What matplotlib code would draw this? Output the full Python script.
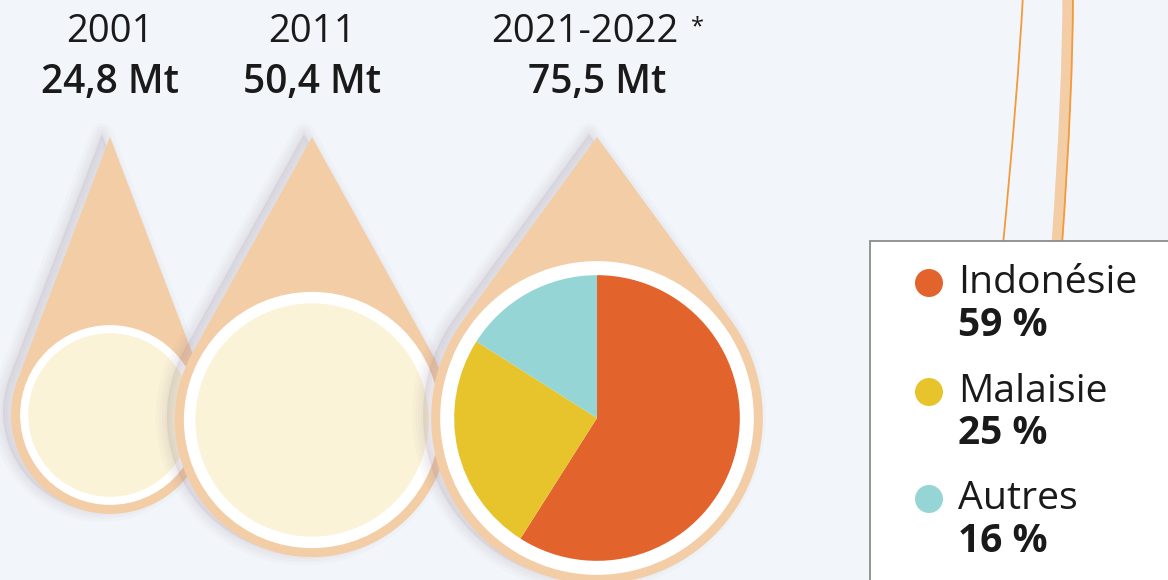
import numpy as np
import matplotlib.pyplot as plt
from matplotlib.patches import Polygon, Circle, Rectangle, PathPatch
from matplotlib.path import Path

plt.rcParams['font.family'] = ['Open Sans', 'DejaVu Sans']

# data
years = ["2001", "2011", "2021-2022"]
year_notes = ["", "", "*"]
volumes = [24.8, 50.4, 75.5]          # Mt
countries = ["Indonésie", "Malaisie", "Autres"]
shares = [59, 25, 16]                 # % of 2021-2022

# colours
BG = "#f2f6fa"
PEACH = "#f3cda6"
CREAM = "#faf3d8"
pie_colors = ["#e2632b", "#e8c42c", "#95d5d5"]

W, H = 1168, 580

fig = plt.figure(figsize=(W / 100, H / 100), dpi=100, facecolor=BG)
ax = fig.add_axes([0, 0, 1, 1])
ax.set_facecolor(BG)


def Y(py):
    # layout written in pixels from the top
    return H - py


def drop_points(cx, cy, tip_y, R, n=120):
    d = cy - tip_y
    th = np.arccos(R / d)
    # angles measured from "up", going round the bottom
    a = np.linspace(th, 2 * np.pi - th, n)
    xs = cx + R * np.sin(a)
    ys = cy - R * np.cos(a)
    pts = [(cx, tip_y)] + list(zip(xs, ys))
    return np.array([(x, Y(y)) for x, y in pts])


# layout of the drops (pixels)
centers_x = [110, 312, 597]
centers_y = [415, 420, 418]
tip_y = 137
k = 18.05  # ring radius = k * sqrt(volume)

for i, (cx, cy, v) in enumerate(zip(centers_x, centers_y, volumes)):
    ring = k * np.sqrt(v)
    outer = ring + 9
    inner = ring * 0.91
    pts = drop_points(cx, cy, tip_y, outer)

    # soft shadow, up and to the left
    for lw in [16, 11, 7, 3]:
        sh = Polygon(pts + np.array([-8, 3]), closed=True, facecolor="#8a6f8a",
                     edgecolor="#8a6f8a", lw=lw, alpha=0.03, zorder=2 + i * 3,
                     joinstyle="round")
        ax.add_patch(sh)

    ax.add_patch(Polygon(pts, closed=True, facecolor=PEACH, edgecolor="none",
                         zorder=3 + i * 3))
    ax.add_patch(Circle((cx, Y(cy)), ring, facecolor="white", edgecolor="none",
                        zorder=3.5 + i * 3))
    if i < 2:
        ax.add_patch(Circle((cx, Y(cy)), inner, facecolor=CREAM, edgecolor="none",
                            zorder=4 + i * 3))
    else:
        wedges, _ = ax.pie(shares, colors=pie_colors, startangle=90, counterclock=False,
                           radius=ring - 14, center=(cx, Y(cy)),
                           wedgeprops=dict(linewidth=0), frame=True)
        for w in wedges:
            w.set_zorder(4 + i * 3)

    ax.text(cx - (12 if year_notes[i] else 0), Y(32), years[i], ha="center",
            va="center", fontsize=27.5, color="#1a1a1a")
    if year_notes[i]:
        ax.text(cx + 94, Y(27), year_notes[i], ha="left", va="center", fontsize=17,
                color="#1a1a1a")
    ax.text(cx, Y(83), f"{v:.1f}".replace(".", ",") + " Mt", ha="center", va="center",
            fontsize=28, fontweight="semibold", color="#1a1a1a")

# stream lines at top right
def curve(p0, p1, p2):
    return Path([(p0[0], Y(p0[1])), (p1[0], Y(p1[1])), (p2[0], Y(p2[1]))],
                [Path.MOVETO, Path.CURVE3, Path.CURVE3])

ax.add_patch(PathPatch(curve((1003, 245), (1018, 90), (1023, -5)), fill=False,
                       edgecolor="#f39a3a", lw=1.3, zorder=20))
ax.add_patch(PathPatch(curve((1057, 245), (1068, 90), (1068, -5)), fill=False,
                       edgecolor=PEACH, lw=8, zorder=20, capstyle="butt"))
ax.add_patch(PathPatch(curve((1062, 245), (1073, 90), (1073, -5)), fill=False,
                       edgecolor="#f39a3a", lw=1.3, zorder=20))

# legend box
ax.add_patch(Rectangle((870, Y(600)), 320, 359, facecolor="white", edgecolor="#8c8c8c",
                       lw=1.3, zorder=30))
leg_y = [283, 392, 499]
for name, s, c, ly in zip(countries, shares, pie_colors, leg_y):
    ax.add_patch(Circle((929, Y(ly)), 14, facecolor=c, edgecolor="none", zorder=31))
    ax.text(958, Y(ly), name, ha="left", va="center", fontsize=28.3, color="#1a1a1a",
            zorder=32)
    ax.text(958, Y(ly + 42), f"{s} %", ha="left", va="center", fontsize=28,
            fontweight="bold", color="#1a1a1a", zorder=32)

ax.set_xlim(0, W)
ax.set_ylim(0, H)
ax.set_aspect("auto")
ax.axis("off")

fig.savefig("out.png", dpi=100, facecolor=BG)
